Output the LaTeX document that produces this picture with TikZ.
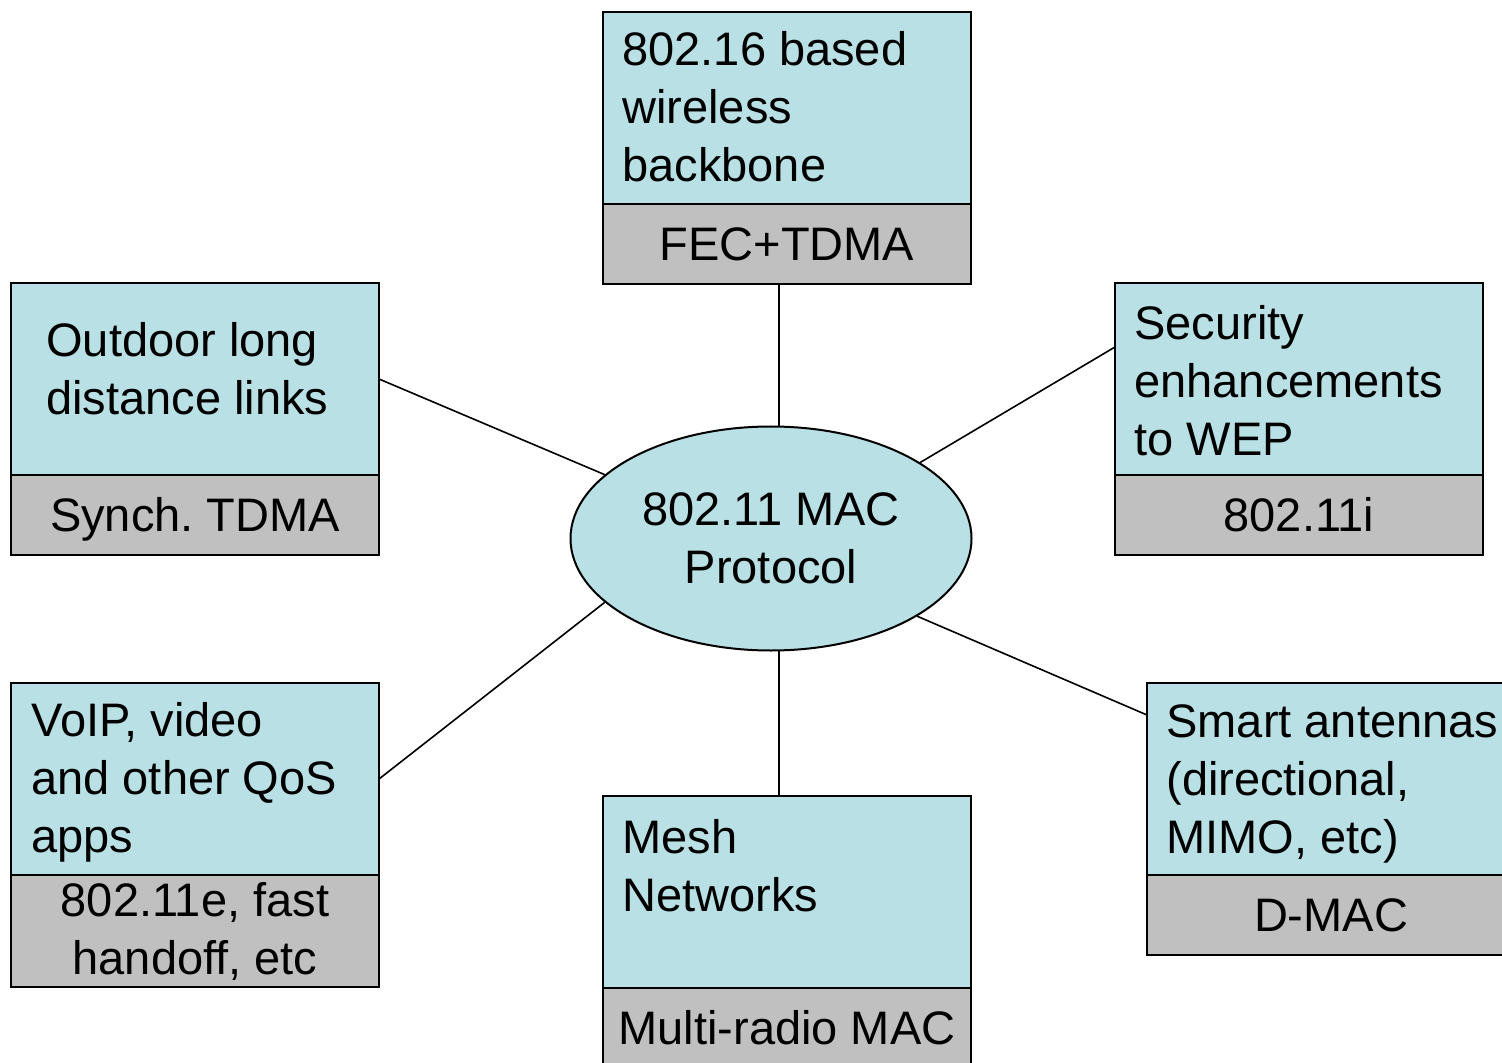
\documentclass[tikz,border=0pt]{standalone}
\usepackage{fontspec}
\setmainfont{Liberation Sans}
\usetikzlibrary{positioning,shapes.geometric}
\frenchspacing
\definecolor{paleteal}{RGB}{185,224,228}
\definecolor{macgray}{RGB}{192,192,192}
\newcommand\boxfont{\fontsize{23.5pt}{29pt}\selectfont}
\tikzset{
  areabox/.style={draw, fill=paleteal, line width=1pt, minimum width=184pt,
    minimum height=96pt, inner sep=0pt, outer sep=0pt, anchor=north west},
  macbase/.style={draw, fill=macgray, line width=1pt, minimum width=184pt,
    minimum height=40pt, inner sep=0pt, outer sep=0pt, font=\boxfont,
    align=center, below=0pt of #1},
  macbox/.style={macbase=#1, text height=16.8pt, text depth=0pt},
  areatext/.style={anchor=north west, inner sep=0pt, align=left,
    font=\boxfont, execute at begin node=\strut},
  macellipse/.style={ellipse, draw, fill=paleteal, line width=1pt,
    minimum width=200.5pt, minimum height=112pt, inner sep=0pt,
    font=\boxfont, align=center},
  link/.style={line width=0.8pt}
}
\begin{document}
\begin{tikzpicture}[x=0.5pt, y=-0.5pt]
  \useasboundingbox (0,0) rectangle (1502,1063);
  \node[areabox] (wbb) at (603,12) {};
  \node[macbox=wbb] (wbbmac) {FEC+TDMA};
  \node[areabox] (outdoor) at (11,283) {};
  \node[macbox=outdoor] (outdoormac) {Synch. TDMA};
  \node[areabox] (sec) at (1115,283) {};
  \node[macbox=sec] (secmac) {802.11i};
  \node[areabox] (qos) at (11,683) {};
  \node[macbase=qos, minimum height=56pt] (qosmac) {802.11e, fast\\handoff, etc};
  \node[areabox] (mesh) at (603,796) {};
  \node[macbox=mesh] (meshmac) {Multi-radio MAC};
  \node[areabox] (smart) at (1147,683) {};
  \node[macbox=smart] (smartmac) {D-MAC};

  \node[areatext] (wbbtxt) at ([shift={(19,19)}]wbb.north west) {802.16 based\\wireless\\backbone};
  \node[areatext] (outdoortxt) at ([shift={(35,39)}]outdoor.north west) {Outdoor long\\distance links};
  \node[areatext] (sectxt) at ([shift={(19,22)}]sec.north west) {Security\\enhancements\\to WEP};
  \node[areatext] (qostxt) at ([shift={(20,19)}]qos.north west) {VoIP, video\\and other QoS\\apps};
  \node[areatext] (meshtxt) at ([shift={(19,23)}]mesh.north west) {Mesh\\Networks};
  \node[areatext] (smarttxt) at ([shift={(19,21)}]smart.north west) {Smart antennas\\(directional,\\MIMO, etc)};

  \node[macellipse] (mac) at (771,538.5) {802.11 MAC\\Protocol};

  \path[link]
    (mac.86)  edge (mac.86 |- wbbmac.south)
    (mac.159) edge (outdoor.east)
    (mac.27.5) edge ([shift={(0,64)}]sec.north west)
    (mac.201) edge (qos.east)
    (mac.332) edge ([shift={(0,32)}]smart.north west)
    (mac.274) edge (mac.274 |- mesh.north);
\end{tikzpicture}
\end{document}
